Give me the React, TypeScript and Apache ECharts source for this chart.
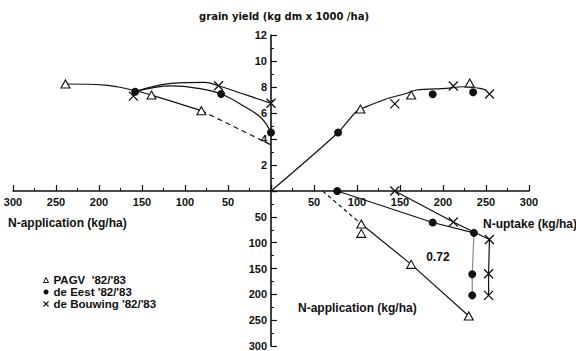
import React, { useEffect, useRef } from 'react';
import * as echarts from 'echarts';

// ---- Upper-left quadrant: N-application (kg/ha) vs grain yield (t dm/ha)
const pagvAppYield = [[239, 8.23], [139, 7.38], [81, 6.18]];
const eestAppYield = [[158, 7.64], [58, 7.46], [0, 4.5]];
const bouwAppYield = [[160, 7.3], [61, 8.1], [0, 6.75]];
const pagvAppCurve = [[239, 8.23], [193, 8.15], [160, 7.75], [139, 7.38], [81, 6.18]];
const pagvAppDashed = [[81, 6.18], [0, 3.55]];
const eestAppCurve = [[158, 7.64], [116, 8.08], [85, 7.9], [58, 7.46], [31, 6.5], [11, 5.6], [0, 4.5]];
const bouwAppCurve = [[158, 7.64], [116, 8.28], [77, 8.36], [61, 8.1], [34, 7.5], [0, 6.75]];

// ---- Upper-right quadrant: N-uptake (kg/ha) vs grain yield
const pagvUptakeYield = [[104, 6.3], [163, 7.38], [231, 8.3]];
const eestUptakeYield = [[78, 4.5], [188, 7.44], [235, 7.59]];
const bouwUptakeYield = [[144, 6.7], [212, 8.08], [254, 7.46]];
const uptakeYieldCurve = [[0, 0], [78, 4.5], [99, 6.1], [111, 6.49], [134, 7.08], [157, 7.5], [169, 7.77], [204, 7.9], [223, 8.02], [243, 7.9], [250, 7.77]];

// ---- Lower-right quadrant: N-uptake (kg/ha) vs N-application (kg/ha)
const pagvUptakeApp = [[105, 64], [105, 82], [163, 142], [230, 242]];
const pagvUptakeAppLine = [[105, 64], [163, 142], [230, 242]];
const pagvUptakeAppDashed = [[60, 0], [105, 64]];
const eestUptakeApp = [[77, 0], [188, 61], [236, 81], [234, 161], [234, 202]];
const eestUptakeAppLine = [[77, 0], [188, 61], [236, 81]];
const eestUptakeAppDrop = [[236, 81], [234, 161], [234, 202]];
const bouwUptakeApp = [[144, 0], [212, 60], [254, 94], [253, 160], [253, 202]];
const bouwUptakeAppLine = [[144, 0], [212, 60], [254, 94], [253, 160], [253, 202]];

const slopeLabel = '0.72';
const legendNames = ["PAGV  '82/'83", "de Eest '82/'83", "de Bouwing '82/'83"];

const YIELD_MAX = 12; // t/ha at top of yield axis
const N_MAX = 300; // kg/ha

const neg = (a: number[][]) => a.map(([x, y]) => [-x, y]);
const down = (a: number[][]) => a.map(([x, y]) => [x, -y]);

const FONT = '"Liberation Sans", Arial, sans-serif';
const WIDE = '"DejaVu Sans", "Liberation Sans", sans-serif';
const INK = '#111';
const CROSS = 'path://M0,0L10,10M10,0L0,10';

// quadrant indices: 0 = upper-left, 1 = upper-right, 2 = lower-left, 3 = lower-right
function lineSeries(q: number, data: number[][], opts: any = {}) {
  return {
    type: 'line',
    xAxisIndex: q,
    yAxisIndex: q,
    data,
    symbol: 'none',
    clip: false,
    smooth: opts.smooth ?? false,
    lineStyle: { color: opts.color ?? INK, width: opts.width ?? 1.2, type: opts.type ?? 'solid' },
    z: 2,
    silent: true,
  };
}

const symbolStyles = [
  { symbol: 'triangle', symbolSize: [9, 8], itemStyle: { color: '#fff', borderColor: INK, borderWidth: 1.1, opacity: 1 } },
  { symbol: 'circle', symbolSize: 8, itemStyle: { color: INK, opacity: 1 } },
  { symbol: CROSS, symbolSize: 9, itemStyle: { color: 'rgba(0,0,0,0)', borderColor: INK, borderWidth: 1.3, opacity: 1 } },
];

const legendIcons = [
  { icon: 'triangle', itemStyle: { color: '#fff', borderColor: INK, borderWidth: 1 } },
  { icon: 'circle', itemStyle: { color: INK, borderWidth: 0 } },
  { icon: CROSS, itemStyle: { color: 'rgba(0,0,0,0)', borderColor: INK, borderWidth: 1.1 } },
];

function scatterSeries(k: number, q: number, data: number[][]) {
  return {
    name: legendNames[k],
    type: 'scatter',
    xAxisIndex: q,
    yAxisIndex: q,
    clip: false,
    z: 5,
    ...symbolStyles[k],
    data,
  };
}

export default function App() {
  const ref = useRef<HTMLDivElement>(null);
  useEffect(() => {
    if (!ref.current) return;
    const chart = echarts.init(ref.current, null, { renderer: 'svg' });
    const L = 13, W = 258, T = 35, H = 156, H2 = 155;
    const grids = [
      { left: L, top: T, width: W, height: H },
      { left: L + W, top: T, width: W, height: H },
      { left: L, top: T + H, width: W, height: H2 },
      { left: L + W, top: T + H, width: W, height: H2 },
    ].map((g) => ({ ...g, containLabel: false, outerBoundsMode: 'none' }));
    const lbl = { fontSize: 11, fontWeight: 'bold', color: INK, fontFamily: FONT };
    const line = { show: true, onZero: false, lineStyle: { color: INK, width: 1.6 } };
    const minor = { show: true, splitNumber: 2, length: 3, lineStyle: { color: INK, width: 1 } };
    const absFmt = (v: number) => (v === 0 ? '' : String(Math.abs(v)));
    const xShown = (gi: number, min: number, max: number) => ({
      type: 'value', gridIndex: gi, min, max, interval: 50, position: 'bottom',
      axisLine: line,
      axisTick: { show: true, inside: true, length: 6, lineStyle: { color: INK, width: 1.2 } },
      minorTick: minor,
      splitLine: { show: false },
      axisLabel: { ...lbl, margin: 5, formatter: absFmt },
    });
    const hidden = (gi: number, min: number, max: number) => ({
      type: 'value', gridIndex: gi, min, max, show: false, splitLine: { show: false },
    });
    const yShown = (gi: number, min: number, max: number, interval: number, fmt: (v: number) => string) => ({
      type: 'value', gridIndex: gi, min, max, interval, position: 'right',
      axisLine: line,
      axisTick: { show: true, inside: false, length: 6, lineStyle: { color: INK, width: 1.2 } },
      minorTick: minor,
      splitLine: { show: false },
      axisLabel: { ...lbl, lineHeight: 9, inside: true, margin: 4, formatter: fmt },
    });
    const txt = (x: number, y: number, text: string, align: string, font = `bold 12px ${FONT}`) => ({
      type: 'text', x, y, style: { text, font, fill: INK, align, verticalAlign: 'middle' },
    });
    chart.setOption({
      animation: false,
      backgroundColor: '#fff',
      grid: grids,
      xAxis: [
        xShown(0, -N_MAX, 0),
        xShown(1, 0, N_MAX),
        hidden(2, -N_MAX, 0),
        hidden(3, 0, N_MAX),
      ],
      yAxis: [
        yShown(0, 0, YIELD_MAX, 2, (v: number) => (v === 0 ? '' : String(v))),
        hidden(1, 0, YIELD_MAX),
        yShown(2, -N_MAX, 0, 50, absFmt),
        hidden(3, -N_MAX, 0),
      ],
      legend: {
        data: legendNames.map((name, i) => ({ name, ...legendIcons[i] })),
        orient: 'vertical', left: 43, top: 274, itemGap: 0, padding: 0,
        itemWidth: 5, itemHeight: 5, selectedMode: false,
        textStyle: { fontSize: 11.5, lineHeight: 11.5, fontWeight: 'bold', color: INK, fontFamily: FONT },
      },
      graphic: [
        txt(284, 16, 'grain yield (kg dm x 1000 /ha)', 'center', `bold 10px ${WIDE}`),
        txt(8, 223, 'N-application (kg/ha)', 'left'),
        txt(483, 224, 'N-uptake (kg/ha)', 'left'),
        txt(298, 308, 'N-application (kg/ha)', 'left'),
        txt(438, 257, slopeLabel, 'center'),
      ],
      series: [
        lineSeries(0, neg(pagvAppCurve), { smooth: 0.4 }),
        lineSeries(0, neg(pagvAppDashed), { type: [5, 4] }),
        lineSeries(0, neg(eestAppCurve), { smooth: 0.4 }),
        lineSeries(0, neg(bouwAppCurve), { smooth: 0.4 }),
        lineSeries(1, uptakeYieldCurve, { smooth: 0.3 }),
        lineSeries(3, down(pagvUptakeAppLine)),
        lineSeries(3, down(pagvUptakeAppDashed), { type: [4, 3] }),
        lineSeries(3, down(eestUptakeAppLine)),
        lineSeries(3, down(eestUptakeAppDrop), { color: '#8a8a8a' }),
        lineSeries(3, down(bouwUptakeAppLine)),
        scatterSeries(0, 0, neg(pagvAppYield)),
        scatterSeries(0, 1, pagvUptakeYield),
        scatterSeries(0, 3, down(pagvUptakeApp)),
        scatterSeries(1, 0, neg(eestAppYield)),
        scatterSeries(1, 1, eestUptakeYield),
        scatterSeries(1, 3, down(eestUptakeApp)),
        scatterSeries(2, 0, neg(bouwAppYield)),
        scatterSeries(2, 1, bouwUptakeYield),
        scatterSeries(2, 3, down(bouwUptakeApp)),
      ],
    });
    return () => chart.dispose();
  }, []);
  return (
    <div
      ref={ref}
      style={{ position: 'fixed', left: 0, top: 0, width: 576, height: 351, background: '#fff' }}
    />
  );
}
